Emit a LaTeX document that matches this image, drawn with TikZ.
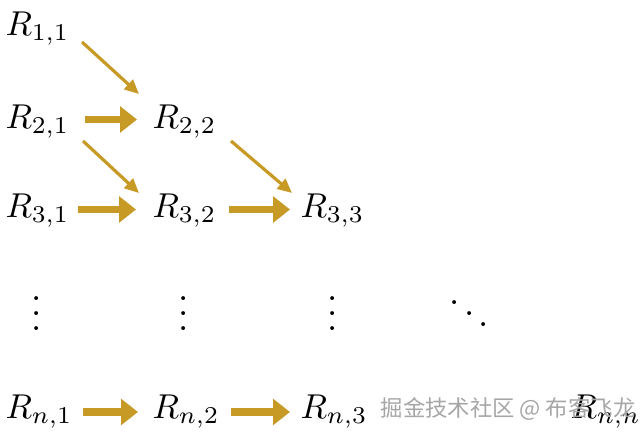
\documentclass[tikz,border=0pt]{standalone}
\usepackage{amssymb}
\usepackage{fontspec}
\newfontfamily\cjkfont{Noto Sans CJK SC}
\usetikzlibrary{arrows.meta}
\definecolor{arrowgold}{RGB}{199,154,38}

\begin{document}
\begin{tikzpicture}[x=0.011cm, y=-0.011cm,
    entry/.style={anchor=base west, inner sep=0pt, scale=1.08},
    dotsnode/.style={anchor=base, inner sep=0pt, scale=1.15},
    bigarrow/.style={draw=arrowgold, line width=2.5pt, -{Triangle[length=5.3pt,width=8pt]}},
    slantarrow/.style={draw=arrowgold, line width=1pt, -{Triangle[length=4.5pt,width=4pt]}}]
        \useasboundingbox (0,0) rectangle (643,438);

        % First three rows
        \node[entry] (r11) at (5,35) {$R_{1,1}$};
        \node[entry] (r21) at (5,128) {$R_{2,1}$};
        \node[entry] (r22) at (152,128) {$R_{2,2}$};
        \node[entry] (r31) at (5,217) {$R_{3,1}$};
        \node[entry] (r32) at (152,217) {$R_{3,2}$};
        \node[entry] (r33) at (300,217) {$R_{3,3}$};

        % Dots
        \node[dotsnode] (v1) at (37,330) {$\vdots$};
        \node[dotsnode] (v2) at (184,330) {$\vdots$};
        \node[dotsnode] (v3) at (333,330) {$\vdots$};
        \node[dotsnode, anchor=base west] (dd) at (447,330) {$\ddots$};

        % Last row
        \node[entry] (rn1) at (5,418) {$R_{n,1}$};
        \node[entry] (rn2) at (152,418) {$R_{n,2}$};
        \node[entry] (rn3) at (300,418) {$R_{n,3}$};
        \node[entry] (rnn) at (570,418) {$R_{n,n}$};

        % Horizontal arrows
        \draw[bigarrow] ([shift={(15,-8.5)}]r21.base east) -- ([shift={(-15,-8.5)}]r22.base west);
        \draw[bigarrow] ([shift={(8,-7.5)}]r31.base east) -- ([shift={(-16,-7.5)}]r32.base west);
        \draw[bigarrow] ([shift={(12,-7.5)}]r32.base east) -- ([shift={(-10,-7.5)}]r33.base west);
        \draw[bigarrow] ([shift={(10,-6)}]rn1.base east) -- ([shift={(-14,-6)}]rn2.base west);
        \draw[bigarrow] ([shift={(11,-6)}]rn2.base east) -- ([shift={(-10,-6)}]rn3.base west);

        % Diagonal arrows
        \draw[slantarrow] ([shift={(12,7)}]r11.base east) -- ([shift={(-13,-34)}]r22.base west);
        \draw[slantarrow] ([shift={(13,13)}]r21.base east) -- ([shift={(-13,-24)}]r32.base west);
        \draw[slantarrow] ([shift={(14,13)}]r22.base east) -- ([shift={(-8,-24)}]r33.base west);

        % Watermark
        \node[anchor=base west, inner sep=0pt, text=gray!70, font=\cjkfont\fontsize{7}{8}\selectfont] (mark) at (380,416) {掘金技术社区 @ 布客飞龙};
\end{tikzpicture}
\end{document}
